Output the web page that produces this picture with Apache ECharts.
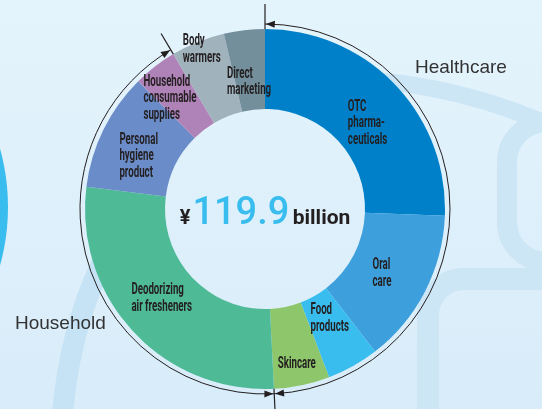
<!DOCTYPE html>
<html>
<head>
<meta charset="utf-8">
<style>
  html, body { margin: 0; padding: 0; }
  #main { width: 542px; height: 409px; }
</style>
<script src="https://cdn.jsdelivr.net/npm/echarts@6/dist/echarts.min.js"></script>
</head>
<body>
<div id="main"></div>
<script>
// 数据（十亿日元）
var categories = [
  "OTC\npharma-\nceuticals",
  "Oral\ncare",
  "Food\nproducts",
  "Skincare",
  "Deodorizing\nair fresheners",
  "Personal\nhygiene\nproduct",
  "Household\nconsumable\nsupplies",
  "Body\nwarmers",
  "Direct\nmarketing"
];
var salesValues = [30.7, 16.7, 5.6, 6.0, 33.3, 12.7, 4.7, 5.8, 4.4];
var sliceColors = ["#0080c9", "#3d9fdc", "#39bdef", "#8dc66b", "#4fba96", "#6a8cc8", "#b083b8", "#a0b2bc", "#748f9c"];
// 分组：Healthcare = 0..3, Household = 4..6
var groupNames = ["Healthcare", "Household"];
var groupSizes = [4, 3];

// 版式
var CX = 265, CY = 209;
var R_IN = 100, R_OUT = 180, R_ARC = 185;
var labelNudge = [[-18, 11], [-17, 0], [-23, -13], [-16, 18], [-31, -6], [-20, 9], [-36, 0], [-30, -30], [-22, 12]];
var labelFont = "bold 17px Roboto, 'DejaVu Sans', sans-serif";
var labelSquash = 0.57; // 模拟窄体字
var ink = "#231f20";

var total = salesValues.reduce(function (a, b) { return a + b; }, 0);

// 累计值 -> 角度（数学角度，逆时针为正，起点12点钟方向）
function angleAt(cum) {
  return 90 - 360 * cum / total;
}
function pt(deg, r) {
  var a = deg * Math.PI / 180;
  return [CX + r * Math.cos(a), CY - r * Math.sin(a)];
}
function sumTo(n) {
  var s = 0;
  for (var i = 0; i < n; i++) s += salesValues[i];
  return s;
}

var bounds = [angleAt(0), angleAt(sumTo(groupSizes[0])), angleAt(sumTo(groupSizes[0] + groupSizes[1]))];

// 箭头
function arrowHead(tipDeg, dir) {
  var L = 9, W = 3.6, gap = 0.8;
  var tip = tipDeg + dir * (gap / R_ARC) * 180 / Math.PI;
  var base = tip + dir * (L / R_ARC) * 180 / Math.PI;
  return {
    type: "polygon",
    z: 10,
    silent: true,
    shape: { points: [pt(tip, R_ARC), pt(base, R_ARC + W), pt(base, R_ARC - W)] },
    style: { fill: ink }
  };
}
function tick(deg, r1, r2) {
  var a = pt(deg, r1), b = pt(deg, r2);
  return {
    type: "line",
    z: 10,
    silent: true,
    shape: { x1: a[0], y1: a[1], x2: b[0], y2: b[1] },
    style: { stroke: ink, lineWidth: 1.2 }
  };
}
function groupArc(fromDeg, toDeg) {
  return {
    type: "arc",
    z: 10,
    silent: true,
    shape: {
      cx: CX, cy: CY, r: R_ARC,
      startAngle: -fromDeg * Math.PI / 180,
      endAngle: -toDeg * Math.PI / 180,
      clockwise: true
    },
    style: { fill: null, stroke: ink, lineWidth: 1 }
  };
}
function curveBand(x1, y1, cx1, cy1, x2, y2, w, color) {
  return {
    type: "bezierCurve", z: 0, silent: true,
    shape: { x1: x1, y1: y1, cpx1: cx1, cpy1: cy1, x2: x2, y2: y2 },
    style: { fill: null, stroke: color, lineWidth: w }
  };
}
// 扇区标签：放在扇区中线、环中部，再按 labelNudge 微调
function sliceLabel(i) {
  var mid = angleAt(sumTo(i) + salesValues[i] / 2);
  var p = pt(mid, (R_IN + R_OUT) / 2);
  return {
    type: "text", z: 12, silent: true,
    x: p[0] + labelNudge[i][0], y: p[1] + labelNudge[i][1],
    scaleX: labelSquash,
    style: {
      text: categories[i], fill: ink, font: labelFont, lineHeight: 16.5,
      textAlign: "left", textVerticalAlign: "middle"
    }
  };
}

var band = "#cce6f6";
var graphics = [
  // 背景装饰
  { type: "circle", z: 0, silent: true, shape: { cx: -210, cy: 207, r: 218 }, style: { fill: "#39bdef" } },
  curveBand(370, 80, 470, 88, 560, 130, 17, band),
  { type: "rect", z: 0, silent: true, shape: { x: 507, y: 122, width: 200, height: 140, r: 40 }, style: { fill: null, stroke: band, lineWidth: 20 } },
  { type: "rect", z: 0, silent: true, shape: { x: 428, y: 279, width: 200, height: 200, r: 36 }, style: { fill: null, stroke: band, lineWidth: 22 } },
  curveBand(140, 200, 72, 290, 62, 420, 21, "#c6e3f5"),

  // 分组弧线
  groupArc(bounds[0], bounds[1]),
  groupArc(bounds[1], bounds[2]),
  arrowHead(bounds[0], -1),
  arrowHead(bounds[1], 1),
  arrowHead(bounds[1], -1),
  arrowHead(bounds[2], 1),
  tick(bounds[0], R_OUT, R_OUT + 25),
  tick(bounds[1], R_OUT, R_OUT + 40),
  tick(bounds[2], R_OUT, R_OUT + 24),

  // 分组名称
  {
    type: "text", z: 10, silent: true, x: 415, y: 68,
    style: { text: groupNames[0], fill: "#333", font: "19px 'Liberation Sans', sans-serif", textAlign: "left", textVerticalAlign: "middle" }
  },
  {
    type: "text", z: 10, silent: true, x: 15, y: 324,
    style: { text: groupNames[1], fill: "#333", font: "19px 'Liberation Sans', sans-serif", textAlign: "left", textVerticalAlign: "middle" }
  },

  // 中心合计
  {
    type: "text", z: 10, silent: true, x: CX, y: CY + 5,
    style: {
      text: "{y|¥}{v|" + total.toFixed(1) + "} {u|billion}",
      textAlign: "center",
      textVerticalAlign: "middle",
      rich: {
        y: { fontFamily: "Roboto", fontWeight: "bold", fontSize: 20, fill: ink, padding: [10, 2, 0, 0] },
        v: { fontFamily: "Roboto", fontWeight: 500, fontSize: 38, fill: "#39bdef" },
        u: { fontFamily: "Roboto", fontWeight: "bold", fontSize: 21, fill: ink, padding: [10, 0, 0, 0] }
      }
    }
  }
];
categories.forEach(function (c, i) { graphics.push(sliceLabel(i)); });

var pieData = categories.map(function (name, i) {
  return { name: name, value: salesValues[i], itemStyle: { color: sliceColors[i] } };
});

var myChart = echarts.init(document.getElementById("main"), null, { renderer: "canvas" });
var option = {
  animation: false,
  backgroundColor: {
    type: "linear", x: 0, y: 0, x2: 0, y2: 1,
    colorStops: [{ offset: 0, color: "#e4f4fc" }, { offset: 1, color: "#d8ecf9" }]
  },
  graphic: graphics,
  series: [{
    type: "pie",
    z: 2,
    center: [CX, CY],
    radius: [R_IN, R_OUT],
    startAngle: 90,
    clockwise: true,
    silent: true,
    itemStyle: { borderWidth: 0 },
    label: { show: false },
    labelLine: { show: false },
    data: pieData
  }]
};
myChart.setOption(option);
</script>
</body>
</html>
